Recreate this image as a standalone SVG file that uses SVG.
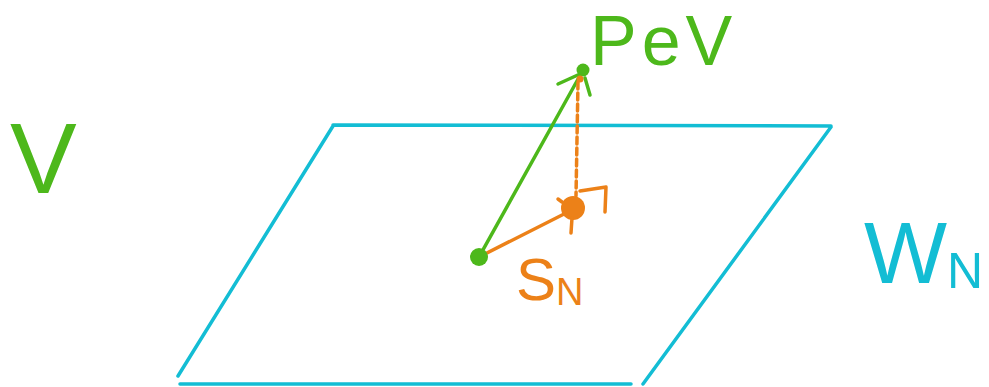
<svg xmlns="http://www.w3.org/2000/svg" width="989" height="387" viewBox="0 0 989 387">
<style>
.g{stroke:#4db81b;fill:none;stroke-width:3.5;stroke-linecap:round;stroke-linejoin:round}
.o{stroke:#ec8118;fill:none;stroke-width:3.5;stroke-linecap:round;stroke-linejoin:round}
.c{stroke:#13bdd4;fill:none;stroke-width:3.5;stroke-linecap:round}
.t{font-family:"Liberation Sans","DejaVu Sans",sans-serif}
</style>
<rect width="989" height="387" fill="#fff"/>
<g id="plane">
<path class="c" d="M333 125 L831 126 M333 126 L178 376 M831 127 L643 384 M180 384 L631 384"/>
</g>
<g id="label-V"><text class="t" x="10" y="193" font-size="100" fill="#4db81b">V</text></g>
<g id="label-WN"><text class="t" x="864" y="283" font-size="88" fill="#13bdd4">W<tspan font-size="50" dy="5">N</tspan></text></g>
<g id="label-PeV"><text class="t" x="590" y="65" font-size="70" fill="#4db81b" letter-spacing="5">PeV</text></g>
<g id="label-sN"><text class="t" x="516" y="300" font-size="60" fill="#ec8118">S<tspan font-size="38" dy="5">N</tspan></text></g>
<g id="connectors">
<path class="g" d="M479 257 L582 72"/>
<path class="g" d="M558 84 L580 74 M585 78 L590 95"/>
<path class="o" d="M578 82 L576 196" stroke-dasharray="7 4"/>
<path class="o" d="M479 257 L568 212"/>
<path class="o" d="M580 191 L606 187 L605 212" stroke-width="4.5"/>
</g>
<g id="point-origin"><circle cx="479" cy="257" r="9" fill="#4db81b"/></g>
<g id="point-PeV"><circle cx="583" cy="70" r="6.5" fill="#4db81b"/><circle cx="580" cy="79" r="3.5" fill="#ec8118"/></g>
<g id="point-sN">
<circle cx="573" cy="208" r="12" fill="#ec8118"/>
<path class="o" d="M562 202 L558 199 M572 218 L571 233" stroke-width="4.5"/>
</g>
</svg>
